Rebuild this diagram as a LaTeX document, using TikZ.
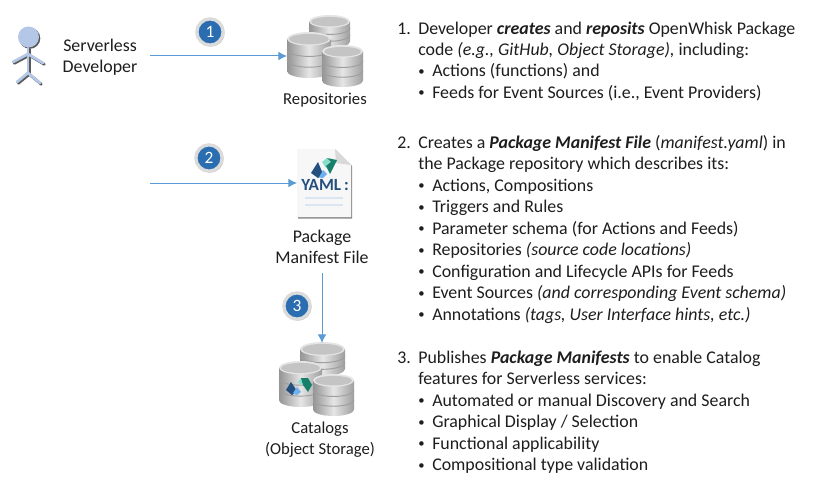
\documentclass[tikz,border=0pt]{standalone}
\usepackage{fontspec}
\setmainfont{Carlito}
\usetikzlibrary{arrows.meta,shadows}
\definecolor{arrowblue}{HTML}{5B9BD5}
\definecolor{badgeblue}{HTML}{2A6DB0}
\definecolor{personblue}{HTML}{B4C7E7}
\definecolor{txtgray}{HTML}{1E1E1E}
\definecolor{logodark}{HTML}{24507F}
\definecolor{logolight}{HTML}{6FB1F0}
\definecolor{logogreen}{HTML}{17806B}
\definecolor{logoteal}{HTML}{8ADCCB}
\definecolor{doclines}{HTML}{DCE6F2}
\tikzset{
  txt/.style={anchor=base west,inner sep=0pt,yshift=-0.5pt,font=\fontsize{13.4}{15}\selectfont,text=txtgray},
  lbl/.style={align=center,inner sep=0pt,font=\fontsize{13.4}{15.6}\selectfont,text=txtgray},
  lblsmall/.style={lbl,font=\fontsize{12.5}{15.6}\selectfont},
  conn/.style={draw=arrowblue,line width=0.75pt,-{Latex[length=6.5pt,width=6.5pt]}},
  badge/.style={circle,fill=badgeblue,draw=black!14,line width=2.5pt,minimum size=19.7pt,inner sep=0pt,text=white,font=\fontsize{13}{14}\selectfont,
    circular drop shadow={shadow xshift=0.8pt,shadow yshift=-0.8pt,shadow scale=1.03,fill=black!60}},
  limb/.style={line width=2.1pt,line cap=round},
}
% cx, top y, width, height (pixels)
\newcommand{\diskstack}[4]{%
  \begin{scope}[shift={(#1,#2)}]
    \pgfmathsetmacro{\hw}{#3/2}\pgfmathsetmacro{\ry}{#3*0.155}\pgfmathsetmacro{\bt}{#4-\ry}
    \pgfmathsetmacro{\tierA}{\ry+(\bt-\ry)/3}\pgfmathsetmacro{\tierB}{\ry+2*(\bt-\ry)/3}
    \path[left color=black!42,right color=black!38,middle color=black!10]
      (-\hw,\ry) -- (-\hw,\bt) arc[start angle=180,end angle=360,x radius=\hw,y radius=-\ry] -- (\hw,\ry) -- cycle;
    \draw[black!38,line width=0.7pt] (-\hw,\tierA) arc[start angle=180,end angle=360,x radius=\hw,y radius=-\ry];
    \draw[black!38,line width=0.7pt] (-\hw,\tierB) arc[start angle=180,end angle=360,x radius=\hw,y radius=-\ry];
    \fill[black!10] (0,\ry) ellipse[x radius=\hw,y radius=\ry];
    \fill[black!23] (0,\ry+0.3) ellipse[x radius=\hw-2,y radius=\ry-1.6];
  \end{scope}}
\newcommand{\tline}[4]{\node[txt] (#1) at (#2,#3) {#4};}
\newcommand{\bul}{\raisebox{0.9pt}{\fontsize{9.5}{9.5}\selectfont •}}
\begin{document}
\begin{tikzpicture}[x=0.75pt,y=-0.75pt]
\useasboundingbox (0,0) rectangle (823,492);
\fill[white] (0,0) rectangle (823,492);

% person
\begin{scope}[shift={(1.3,1.3)},black!65]
  \draw[limb] (13,62) -- (28,54) -- (43,63);
  \draw[limb] (28,48) -- (28,73);
  \draw[limb] (17,82) -- (28,73) -- (40,83);
  \fill (28.5,37) circle[radius=10.5];
\end{scope}
\begin{scope}[personblue]
  \draw[limb] (13,62) -- (28,54) -- (43,63);
  \draw[limb] (28,48) -- (28,73);
  \draw[limb] (17,82) -- (28,73) -- (40,83);
  \fill (28.5,37) circle[radius=10.5];
\end{scope}

\node[lbl] (dev) at (100,57) {Serverless\\Developer};

% repositories
\diskstack{329.5}{15}{41}{33}
\diskstack{309}{32}{44}{46}
\diskstack{342.5}{45}{41}{42}
\coordinate (repo) at (287,56);
\node[lblsmall] (repolbl) at (325,100.5) {Repositories};
\draw[conn] (150,56) -- (repo);
\node[badge] (b1) at (210,32) {1};

% manifest file
\fill[black!45] (298,150) -- (336,150) -- (352,166) -- (352,218.5) -- (298,218.5) -- cycle;
\fill[black!3] (297,149) -- (335,149) -- (351,165) -- (351,217) -- (297,217) -- cycle;
\fill[black!15] (335,149) -- (351,165) -- (336,163) -- cycle;
\draw[doclines,line width=0.9pt] (305,198) -- (343,198) (305,205) -- (343,205);
\fill[logodark] (311,173) -- (318,162) -- (323,174) -- (318,178) -- cycle;
\fill[logolight] (319,177.5) -- (323,170) -- (327,174) -- (323,178) -- cycle;
\fill[logoteal] (322,162) -- (327,158) -- (331,162) -- (326,168) -- cycle;
\fill[logogreen] (327,158) -- (337,160) -- (330,174) -- (326,166) -- (331,162) -- cycle;
\node[inner sep=0pt,font=\bfseries\fontsize{12.8}{14}\selectfont,text=logodark] (yaml) at (325,185) {YAML\,:};
\coordinate (man) at (297,183);
\draw[conn] (150,183) -- (man);
\node[badge] (b2) at (209,158) {2};
\node[lbl] (manlbl) at (322,246.5) {Package\\Manifest File};

% catalogs
\diskstack{322.5}{342}{45}{34}
\diskstack{300.5}{361}{43}{46}
\fill[logodark] (286,390) -- (291,382) -- (297,391) -- (292,395) -- cycle;
\fill[logolight] (293,393) -- (297,387) -- (301,392) -- (297,395) -- cycle;
\fill[logoteal] (298,382) -- (301,378) -- (305,380) -- (301,385) -- cycle;
\fill[logogreen] (301,378) -- (308,378) -- (312,385) -- (308,392) -- (303,385) -- cycle;
\diskstack{333.5}{374}{41}{42}
\coordinate (cat) at (322,343);
\draw[conn] (322,273) -- (cat);
\node[badge] (b3) at (297,306) {3};
\node[lblsmall] (catlbl) at (320,439.5) {Catalogs\\(Object Storage)};

% right-hand text
\tline{a0}{397}{33.5}{1.}
\tline{a1}{418}{33.5}{Developer \textbf{\textit{creates}} and \textbf{\textit{reposits}} OpenWhisk Package}
\tline{a2}{418}{55}{code \textit{(e.g., GitHub, Object Storage),} including:}
\tline{a3}{418}{76}{\bul}
\tline{a4}{432}{76}{Actions (functions) and}
\tline{a5}{418}{97.5}{\bul}
\tline{a6}{432}{97.5}{Feeds for Event Sources (i.e., Event Providers)}

\tline{c0}{397}{147.5}{2.}
\tline{c1}{418}{147.5}{Creates a \textbf{\textit{Package Manifest File}} (\textit{manifest.yaml}) in}
\tline{c2}{418}{169}{the Package repository which describes its:}
\tline{c3}{418}{190.5}{\bul}
\tline{c4}{432}{190.5}{Actions, Compositions}
\tline{c5}{418}{212}{\bul}
\tline{c6}{432}{212}{Triggers and Rules}
\tline{c7}{418}{233.5}{\bul}
\tline{c8}{432}{233.5}{Parameter schema (for Actions and Feeds)}
\tline{c9}{418}{255}{\bul}
\tline{c10}{432}{255}{Repositories \textit{(source code locations)}}
\tline{c11}{418}{276.5}{\bul}
\tline{c12}{432}{276.5}{Configuration and Lifecycle APIs for Feeds}
\tline{c13}{418}{298}{\bul}
\tline{c14}{432}{298}{Event Sources \textit{(and corresponding Event schema)}}
\tline{c15}{418}{319.5}{\bul}
\tline{c16}{432}{319.5}{Annotations \textit{(tags, User Interface hints, etc.)}}

\tline{e0}{397}{362.5}{3.}
\tline{e1}{418}{362.5}{Publishes \textbf{\textit{Package Manifests}} to enable Catalog}
\tline{e2}{418}{384}{features for Serverless services:}
\tline{e3}{418}{405.5}{\bul}
\tline{e4}{432}{405.5}{Automated or manual Discovery and Search}
\tline{e5}{418}{427}{\bul}
\tline{e6}{432}{427}{Graphical Display / Selection}
\tline{e7}{418}{448.5}{\bul}
\tline{e8}{432}{448.5}{Functional applicability}
\tline{e9}{418}{470}{\bul}
\tline{e10}{432}{470}{Compositional type validation}
\end{tikzpicture}
\end{document}
